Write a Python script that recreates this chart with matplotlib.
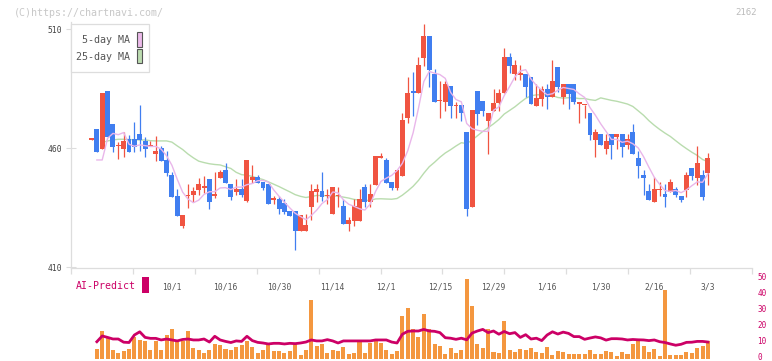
import numpy as np
import matplotlib
matplotlib.use("Agg")
import matplotlib.pyplot as plt
from matplotlib.patches import Rectangle
from matplotlib.transforms import ScaledTranslation

plt.rcParams['font.family'] = ['DejaVu Sans Mono']

# ---- data ----
opens = [463.6, 468.1, 459.7, 484.1, 470.2, 460.9, 459.7, 463.8, 463.8, 466.0,
         463.1, 460.8, 457.6, 460.0, 455.1, 448.8, 440.0, 427.5, 439.8, 440.4,
         442.5, 443.4, 447.1, 440.0, 447.7, 450.9, 445.0, 441.5, 442.8, 438.0,
         446.7, 448.0, 445.7, 445.0, 438.4, 438.6, 436.9, 433.7, 433.6, 425.4,
         425.4, 435.5, 441.8, 442.0, 439.8, 432.4, 439.8, 435.8, 428.2, 429.5,
         429.5, 443.9, 437.5, 444.7, 455.8, 455.1, 445.8, 443.4, 448.5, 472.9,
         484.1, 483.1, 498.1, 507.2, 491.2, 479.8, 479.6, 486.2, 477.7, 478.2,
         466.8, 435.4, 484.1, 479.9, 471.5, 475.7, 478.9, 483.1, 498.4, 491.1,
         490.9, 491.2, 489.9, 477.9, 480.8, 484.9, 481.7, 494.1, 481.7, 487.0,
         487.0, 478.7, 478.0, 474.8, 463.5, 466.0, 459.8, 466.0, 464.9, 466.0,
         461.5, 466.8, 456.0, 448.8, 442.0, 437.5, 442.5, 440.8, 441.6, 442.9,
         439.9, 442.4, 451.7, 447.5, 448.8, 449.6]
highs = [464.0, 468.1, 483.2, 484.1, 470.2, 462.8, 467.0, 465.6, 471.2, 478.2,
         464.9, 463.1, 465.2, 461.0, 459.0, 449.9, 442.9, 432.0, 445.0, 443.9,
         447.6, 448.5, 447.1, 450.2, 450.9, 454.0, 445.0, 447.1, 447.1, 455.1,
         453.0, 448.8, 445.7, 445.0, 440.0, 440.0, 438.6, 433.7, 433.6, 431.9,
         432.6, 445.0, 445.0, 449.9, 442.9, 443.7, 443.7, 438.7, 431.1, 438.7,
         442.8, 445.0, 445.0, 456.7, 458.1, 455.9, 445.8, 450.9, 474.7, 489.8,
         491.9, 498.5, 512.2, 507.2, 493.2, 488.3, 488.4, 486.2, 479.6, 478.2,
         466.8, 476.1, 484.1, 479.9, 474.7, 484.8, 484.8, 502.1, 500.0, 497.1,
         495.0, 491.2, 489.9, 487.0, 486.2, 487.0, 497.1, 494.1, 487.0, 487.0,
         487.0, 479.1, 478.4, 474.8, 468.1, 466.0, 466.0, 466.0, 466.0, 466.0,
         466.0, 470.2, 458.8, 450.9, 445.0, 447.9, 445.8, 445.0, 447.0, 443.9,
         439.9, 450.0, 451.7, 460.9, 450.9, 458.0]
lows = [463.5, 458.6, 459.7, 464.9, 458.6, 455.5, 456.5, 458.6, 458.6, 459.0,
        456.5, 460.8, 454.8, 454.8, 448.4, 439.7, 431.7, 426.6, 434.8, 437.6,
        440.4, 441.4, 434.5, 439.0, 447.7, 445.6, 438.3, 440.4, 439.7, 437.6,
        445.3, 445.6, 442.5, 436.7, 436.6, 432.4, 432.4, 431.7, 417.3, 425.4,
        425.4, 429.7, 437.6, 437.9, 436.6, 432.4, 435.5, 428.3, 425.4, 427.5,
        429.5, 435.4, 435.4, 444.7, 455.8, 445.5, 442.4, 442.4, 448.5, 470.8,
        473.7, 483.1, 494.7, 485.9, 479.6, 472.9, 475.7, 472.9, 472.9, 471.6,
        431.7, 435.4, 469.8, 473.6, 457.7, 475.7, 475.7, 483.1, 491.8, 488.7,
        488.7, 481.7, 478.7, 477.9, 477.9, 476.6, 481.7, 483.8, 478.7, 476.6,
        478.7, 470.8, 472.9, 463.6, 456.5, 461.5, 457.7, 455.6, 459.8, 456.5,
        459.8, 457.7, 447.6, 440.3, 438.2, 437.5, 440.0, 435.4, 441.6, 439.6,
        437.5, 439.6, 446.7, 444.6, 438.2, 444.6]
closes = [463.9, 458.6, 483.2, 464.9, 460.7, 461.2, 463.1, 458.6, 460.7, 463.5,
          459.7, 461.2, 458.9, 454.8, 449.8, 439.7, 431.7, 432.0, 440.2, 442.1,
          445.0, 443.8, 437.6, 440.4, 449.9, 445.6, 439.7, 442.8, 440.4, 455.1,
          448.0, 445.6, 443.5, 436.7, 438.7, 434.5, 433.2, 431.7, 425.4, 431.9,
          427.7, 442.0, 442.9, 439.4, 440.2, 443.7, 440.2, 428.3, 430.0, 435.8,
          438.7, 437.5, 440.8, 456.7, 456.7, 445.5, 443.4, 450.9, 471.9, 483.1,
          483.1, 495.0, 507.2, 493.0, 479.6, 480.1, 487.0, 477.8, 478.0, 474.7,
          434.6, 476.1, 474.5, 475.7, 474.7, 478.9, 483.1, 498.4, 494.6, 495.0,
          491.3, 485.9, 478.7, 481.1, 484.9, 481.7, 488.3, 485.9, 487.0, 482.8,
          479.6, 479.1, 478.4, 465.7, 466.8, 461.5, 463.1, 461.5, 466.0, 460.5,
          463.9, 457.7, 452.7, 447.6, 438.2, 442.9, 442.9, 439.6, 445.8, 440.3,
          438.2, 448.8, 448.3, 453.8, 439.5, 455.9]

# moving averages before enough candles are on screen
ma5_head = [np.nan, 455.1, 455.1, 464.2]
ma25_head = [np.nan, np.nan, 462.4, 463.1, 463.5, 463.8, 463.8, 463.7, 463.6,
             463.5, 463.5, 463.2, 463.1, 463.1, 463.1, 462.6, 461.0, 459.5,
             457.6, 456.0, 454.6, 454.0, 453.5, 453.2]

# volume (from day 1) and AI-Predict line
volume = [6.25, 17.5, 13.75, 5.6, 3.75, 5.0, 6.25, 13.75, 11.9, 11.25,
          5.6, 11.25, 5.6, 15.0, 18.75, 10.6, 11.25, 17.5, 6.9, 5.6,
          3.75, 5.6, 9.4, 8.75, 6.25, 5.6, 7.5, 8.75, 11.25, 7.5,
          3.75, 5.6, 8.75, 5.0, 5.0, 3.75, 5.0, 10.0, 2.5, 5.6,
          36.9, 8.1, 9.4, 3.75, 5.6, 5.0, 7.5, 3.1, 3.75, 10.6,
          3.75, 10.0, 11.25, 10.0, 5.6, 2.9, 5.2, 26.9, 31.9, 18.75,
          13.75, 28.1, 18.75, 9.4, 8.1, 3.1, 6.9, 3.75, 5.6, 50.0,
          33.1, 9.4, 6.9, 18.75, 4.4, 3.75, 23.75, 5.6, 4.4, 6.25,
          5.6, 6.9, 4.4, 4.0, 7.5, 2.5, 5.0, 4.4, 3.1, 3.1,
          3.1, 3.1, 5.6, 3.1, 3.1, 5.0, 4.4, 2.1, 4.4, 3.1,
          9.4, 11.25, 8.1, 4.4, 6.25, 1.9, 43.1, 2.5, 2.5, 2.5,
          4.4, 3.75, 6.9, 8.1, 11.25]
ai_predict = [10.8, 14.4, 13.5, 12.5, 12.5, 10.5, 10.3, 15.0, 17.0, 13.5,
              12.9, 12.9, 11.9, 12.5, 11.9, 11.3, 12.2, 12.5, 11.9, 11.9,
              12.5, 10.6, 14.2, 11.9, 11.0, 10.3, 11.3, 11.0, 14.2, 11.5,
              10.4, 10.0, 9.4, 9.8, 9.8, 9.4, 9.8, 9.6, 10.0, 10.6,
              11.9, 11.3, 11.3, 12.1, 11.3, 10.0, 11.3, 11.3, 11.3, 11.3,
              11.3, 11.3, 11.9, 11.9, 11.9, 10.6, 10.0, 15.5, 17.3, 17.5,
              17.5, 18.5, 17.5, 17.3, 16.5, 13.3, 13.0, 12.3, 13.0, 12.0,
              16.2, 17.5, 18.5, 16.5, 17.5, 15.5, 17.2, 15.8, 16.5, 13.5,
              15.2, 12.5, 13.0, 11.5, 15.0, 17.0, 15.6, 16.8, 16.0, 14.0,
              14.0, 12.3, 13.1, 13.8, 13.2, 11.8, 12.7, 12.7, 12.5, 11.9,
              12.2, 12.0, 11.9, 11.5, 11.9, 10.8, 10.3, 9.4, 8.6, 9.2,
              10.4, 10.5, 11.0, 11.0, 10.6]

date_labels = ['10/1', '10/16', '10/30', '11/14', '12/1', '12/15',
               '12/29', '1/16', '1/30', '2/16', '3/3']
date_index = [15, 25, 35, 45, 55, 65, 75, 85, 95, 105, 115]

# ---- derived ----
o = np.array(opens); h = np.array(highs); l = np.array(lows); c = np.array(closes)
n = len(c)
days = np.arange(n)
ma5 = np.array(ma5_head + [c[i - 4:i + 1].mean() for i in range(4, n)])
ma25 = np.array(ma25_head + [c[i - 24:i + 1].mean() for i in range(24, n)])

RED = '#f05441'
BLUE = '#407ef0'
MAGENTA = '#cc0066'
GRID = '#dddddd'

W, H = 772, 361
fig = plt.figure(figsize=(W / 100, H / 100), dpi=100)


def fx(x):
    return x / W


def fy(y):
    return 1 - y / H


# pixel geometry of the plot area
px_left, px_right = 71, 752
x0, step = 91.5, 5.36
xlim = ((px_left - x0) / step, (px_right - x0) / step)

ax = fig.add_axes([fx(px_left), fy(267.5), fx(px_right - px_left), (267.5 - 22) / H])
ax.set_xlim(*xlim)
ax.set_ylim(460 - (267.5 - 148.3) / 2.38, 460 + (148.3 - 22) / 2.38)

up = c >= o
col = np.where(up, RED, BLUE)
body_lo = np.minimum(o, c)
body_h = np.maximum(np.abs(c - o), 0.6)
ax.vlines(days, l, h, colors=col, lw=0.9, zorder=2)
ax.bar(days, body_h, bottom=body_lo, width=0.92, color=col, lw=0, zorder=3)

ax.plot(days, ma5, color='#e9b6ea', lw=1.0, zorder=4)
ax.plot(days, ma25, color='#b9dcae', lw=1.0, zorder=1)

for s in ['top', 'right']:
    ax.spines[s].set_visible(False)
for s in ['left', 'bottom']:
    ax.spines[s].set_color(GRID)
    ax.spines[s].set_linewidth(0.9)

ax.set_yticks([410, 460, 510])
ax.tick_params(axis='y', direction='inout', length=6.5, width=0.8, color=GRID,
               labelsize=5.8, labelcolor='#444444', pad=3)
ax.set_xticks(date_index)
ax.set_xticklabels(date_labels)
ax.set_xticks(np.linspace(xlim[0], xlim[1], 12), minor=True)
ax.tick_params(axis='x', which='major', length=0, pad=10.5,
               labelsize=5.8, labelcolor='#555555')
ax.tick_params(axis='x', which='minor', direction='out', length=4.5,
               width=0.9, color=GRID)

# ---- volume / AI-Predict panel ----
ax2 = fig.add_axes([fx(px_left), fy(359), fx(px_right - px_left), (359 - 270) / H])
ax2.set_xlim(*xlim)
ax2.set_ylim(0, 89 / 1.6)
ax2.bar(days[1:], volume, width=0.75, color='#f4973f', lw=0, zorder=1)
ax2.plot(days[1:], ai_predict, color=MAGENTA, lw=2.0, zorder=2)
for s in ['top', 'left', 'bottom', 'right']:
    ax2.spines[s].set_visible(False)
ax2.set_xticks([])
ax2.yaxis.tick_right()
ax2.set_yticks([0, 10, 20, 30, 40, 50])
ax2.tick_params(axis='y', length=0, pad=4, labelsize=5.5, labelcolor=MAGENTA)
lift = ScaledTranslation(0, 2 / 100, fig.dpi_scale_trans)
for lab in ax2.get_yticklabels():
    lab.set_transform(lab.get_transform() + lift)
ax2.patch.set_alpha(0)

fig.text(fx(76), fy(286), 'AI-Predict', color=MAGENTA, fontsize=7.1,
         va='center', ha='left')
fig.add_artist(Rectangle((fx(141.7), fy(293)), fx(7.3), 16.3 / H,
                         transform=fig.transFigure, color=MAGENTA, lw=0))

# ---- legend box ----
fig.add_artist(Rectangle((fx(70.7), fy(71.7)), fx(78), 47.7 / H,
                         transform=fig.transFigure, facecolor='white',
                         edgecolor=GRID, lw=0.9, zorder=5))
fig.text(fx(129.8), fy(40.3), '5-day MA', color='#555555', fontsize=7.2,
         ha='right', va='center', zorder=6)
fig.text(fx(129.8), fy(56.6), '25-day MA', color='#555555', fontsize=7.2,
         ha='right', va='center', zorder=6)
fig.add_artist(Rectangle((fx(136.5), fy(46.5)), fx(5.8), 14.6 / H,
                         transform=fig.transFigure, facecolor='#ecbaea',
                         edgecolor='#555555', lw=0.8, zorder=6))
fig.add_artist(Rectangle((fx(136.5), fy(63.2)), fx(5.8), 14.6 / H,
                         transform=fig.transFigure, facecolor='#bcdcb0',
                         edgecolor='#555555', lw=0.8, zorder=6))

# ---- watermark / code ----
fig.text(fx(14), fy(12.5), '(C)https://chartnavi.com/', color='#c8c8c8',
         fontsize=7.2, ha='left', va='center')
fig.text(fx(757), fy(12.5), '2162', color='#bbbbbb', fontsize=6.5,
         ha='right', va='center')

fig.savefig('out.png', dpi=100)
